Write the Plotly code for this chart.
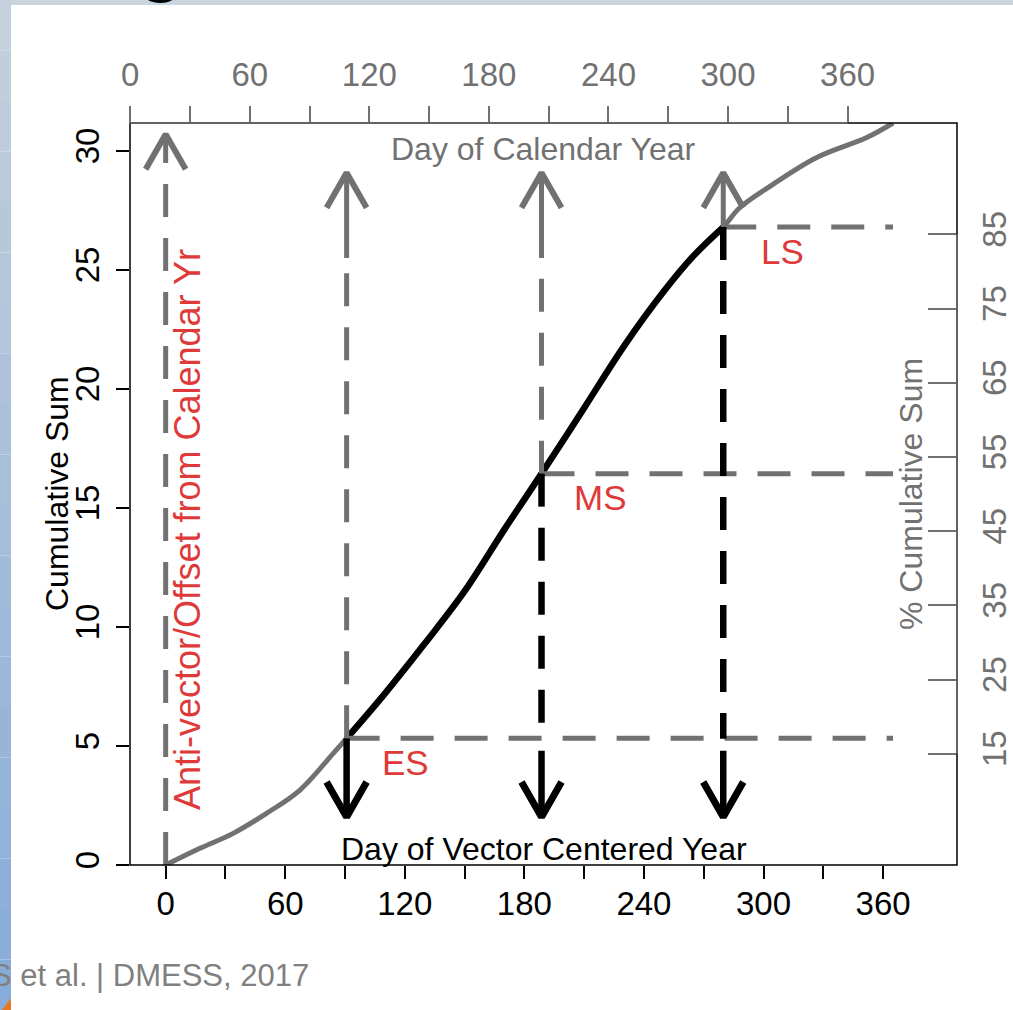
import plotly.graph_objects as go

# ---------------- data ----------------
vector_day = [0, 17.2, 33.9, 50.6, 67.4, 84.1, 90.8, 110, 130, 150, 170, 188.6,
              210, 230, 250, 265, 279.8, 288.2, 304.9, 326.7, 351.8, 365]
cum_sum = [0, 0.70, 1.33, 2.17, 3.15, 4.69, 5.32, 7.2, 9.3, 11.5, 14.1, 16.44,
           19.2, 21.8, 24.1, 25.6, 26.8, 27.62, 28.6, 29.72, 30.56, 31.17]
phase_names = ["ES", "MS", "LS"]
phase_day = [90.8, 188.6, 279.8]
phase_cum = [5.32, 16.44, 26.8]
anti_vector_day = 0
calendar_offset = 17.8        # calendar day = vector day + offset
x_ticks = list(range(0, 361, 30))
x_labels = [str(v) if v % 60 == 0 else "" for v in x_ticks]
y_ticks = list(range(0, 31, 5))
pct_ticks = list(range(15, 86, 10))
total_sum = 31.17

# ---------------- styling ----------------
FONT = "Liberation Sans"
GREY = "#717171"
RED = "#de3a3a"
W, H = 1013, 1010
ML, MR, MT, MB = 130, 56, 123, 145
PW, PH = W - ML - MR, H - MT - MB
XR = [-17.9, 397.1]
YR = [0, total_sum]

def px2x(p):
    return (p - ML) / PW

def px2y(p):
    return (H - MB - p) / PH

# arrow geometry (in data units from pixel sizes)
dxu = 20 / (PW / (XR[1] - XR[0]))
dyu = 35 / (PH / (YR[1] - YR[0]))
UP_TIP = 29.08
UP_BASE = 25.5
AV_TIP = 30.7
DOWN_TIP = 2.02
DOWN_BASE = 5.0
X_END = 365

fig = go.Figure()

def line(xs, ys, color, width, dash="solid", shape="linear"):
    fig.add_trace(go.Scatter(x=xs, y=ys, mode="lines", hoverinfo="skip",
                             line=dict(color=color, width=width, dash=dash, shape=shape),
                             showlegend=False))

def head(x, ytip, color, width, up=True):
    s = -1 if up else 1
    line([x - dxu, x, x + dxu], [ytip + s * dyu, ytip, ytip + s * dyu], color, width)

DASH = "33px,21px"

# full curve (grey), then main season (black)
line(vector_day, cum_sum, GREY, 5, shape="spline")
sel = [i for i, d in enumerate(vector_day) if phase_day[0] <= d <= phase_day[-1]]
line([vector_day[i] for i in sel], [cum_sum[i] for i in sel], "black", 6.5, shape="spline")

# anti-vector arrow
line([anti_vector_day, anti_vector_day], [0, AV_TIP], GREY, 5, DASH)
head(anti_vector_day, AV_TIP, GREY, 6)

for name, d, c in zip(phase_names, phase_day, phase_cum):
    # horizontal grey dashed
    line([d, X_END], [c, c], GREY, 5, DASH)
    # vertical grey dashed up + solid arrow
    if c < UP_BASE:
        line([d, d], [c, UP_BASE], GREY, 5, DASH)
    line([d, d], [max(c, UP_BASE), UP_TIP], GREY, 5)
    head(d, UP_TIP, GREY, 6)
    # vertical black dashed down + solid arrow
    if c > DOWN_BASE + 0.5:
        line([d, d], [c, DOWN_BASE + 0.3], "black", 6.5, DASH)
        line([d, d], [DOWN_BASE - 0.2, DOWN_TIP], "black", 6.5)
    else:
        line([d, d], [c, DOWN_TIP], "black", 6.5)
    head(d, DOWN_TIP, "black", 7, up=False)
    fig.add_annotation(x=d, y=c, text=name, showarrow=False, xshift=59, yshift=-24,
                       xanchor="center", yanchor="middle",
                       font=dict(family=FONT, size=35, color=RED))

# invisible traces to activate secondary axes
fig.add_trace(go.Scatter(x=[XR[0] + calendar_offset], y=[0], xaxis="x2", yaxis="y",
                         mode="markers", marker=dict(opacity=0), showlegend=False, hoverinfo="skip"))
fig.add_trace(go.Scatter(x=[0], y=[50], xaxis="x", yaxis="y2",
                         mode="markers", marker=dict(opacity=0), showlegend=False, hoverinfo="skip"))

tickfont_k = dict(family=FONT, size=33, color="black")
tickfont_g = dict(family=FONT, size=33, color=GREY)

fig.update_layout(
    width=W, height=H, margin=dict(l=ML, r=MR, t=MT, b=MB, pad=0, autoexpand=False),
    paper_bgcolor="white", plot_bgcolor="white", showlegend=False,
    xaxis=dict(range=XR, tickvals=x_ticks, ticktext=x_labels, ticks="outside",
               ticklen=13, tickwidth=1.5, tickcolor="black", tickfont=tickfont_k,
               showgrid=False, zeroline=False, showline=False, ticklabelstandoff=-4,
               automargin=False),
    xaxis2=dict(range=[XR[0] + calendar_offset, XR[1] + calendar_offset],
                overlaying="x", side="top", anchor="y",
                tickvals=x_ticks, ticktext=x_labels, ticks="outside",
                ticklen=16, tickwidth=1.5, tickcolor=GREY, tickfont=tickfont_g,
                showgrid=False, zeroline=False, showline=False, ticklabelstandoff=7,
                automargin=False),
    yaxis=dict(range=YR, tickvals=y_ticks, ticks="outside", ticklen=13, tickwidth=1.5,
               tickcolor="black", tickfont=tickfont_k, tickangle=-90,
               showgrid=False, zeroline=False, showline=False, ticklabelstandoff=4,
               automargin=False),
    yaxis2=dict(range=[0, 100], overlaying="y", side="right", anchor="x",
                tickvals=pct_ticks, ticks="inside", ticklen=29, tickwidth=1.5,
                tickcolor=GREY, tickfont=tickfont_g, tickangle=-90,
                showgrid=False, zeroline=False, showline=False, ticklabelstandoff=15,
                automargin=False),
)

# box
fig.add_shape(type="rect", xref="paper", yref="paper", x0=0, x1=1, y0=0, y1=1,
              line=dict(color="black", width=1.5), layer="above")
# grey axis lines over box
fig.add_shape(type="line", xref="x2", yref="paper", x0=x_ticks[0], x1=x_ticks[-1], y0=1, y1=1,
              line=dict(color=GREY, width=1.5), layer="above")
fig.add_shape(type="line", xref="paper", yref="y2", x0=1, x1=1, y0=pct_ticks[0], y1=pct_ticks[-1],
              line=dict(color=GREY, width=1.5), layer="above")

# slide background decorations
fig.add_shape(type="rect", xref="paper", yref="paper", x0=px2x(0), x1=px2x(W),
              y0=px2y(5), y1=px2y(0), line=dict(width=0), fillcolor="#c8d4de", layer="below")
N = 20
c0, c1 = (196, 208, 220), (136, 172, 216)
for i in range(N):
    t = i / (N - 1)
    col = "rgb(%d,%d,%d)" % tuple(round(a + (b - a) * t) for a, b in zip(c0, c1))
    fig.add_shape(type="rect", xref="paper", yref="paper", x0=px2x(0), x1=px2x(11),
                  y0=px2y(H * (i + 1) / N), y1=px2y(H * i / N),
                  line=dict(width=0), fillcolor=col, layer="below")
fig.add_shape(type="path", xref="paper", yref="paper",
              path="M %f %f L %f %f L %f %f Z" % (px2x(2), px2y(H), px2x(11), px2y(998), px2x(11), px2y(H)),
              line=dict(width=0), fillcolor="#e87722", layer="below")

# texts
def note(x, y, text, size, color, angle=0, xanchor="center"):
    fig.add_annotation(xref="paper", yref="paper", x=x, y=y, text=text, textangle=angle,
                       showarrow=False, xanchor=xanchor, yanchor="middle",
                       font=dict(family=FONT, size=size, color=color))

note(0.5, px2y(149), "Day of Calendar Year", 32, GREY)
note(0.5, px2y(849), "Day of Vector Centered Year", 32, "black")
note(px2x(57), 0.5, "Cumulative Sum", 32, "black", -90)
note(px2x(911), 0.5, "% Cumulative Sum", 32, GREY, -90)
note(px2x(187), px2y(530), "Anti-vector/Offset from Calendar Yr", 36, RED, -90)
note(px2x(-11), px2y(975), "S et al. | DMESS, 2017", 31, "#808080", xanchor="left")
fig.add_annotation(xref="paper", yref="paper", x=px2x(161), y=px2y(5), yanchor="bottom",
                   xanchor="center", text="g", showarrow=False,
                   font=dict(family=FONT, size=90, color="black"))

fig.write_html("out.html")
